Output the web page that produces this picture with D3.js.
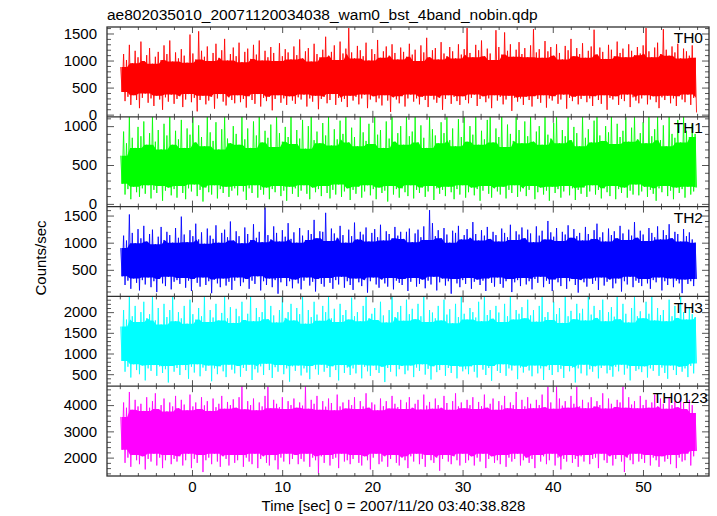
<!DOCTYPE html>
<html><head><meta charset="utf-8">
<script src="https://cdn.jsdelivr.net/npm/d3@7/dist/d3.min.js"></script>
<style>
html,body{margin:0;padding:0;background:#fff;}
svg text{font-family:"Liberation Sans",Arial,Helvetica,sans-serif;fill:#000;}
</style></head>
<body><svg id="chart" width="717" height="516"></svg>
<script>
// ---- data ----
const title = "ae802035010_20071120034038_wam0_bst_4band_nobin.qdp";
const xLabel = "Time [sec] 0 = 2007/11/20 03:40:38.828";
const yLabel = "Counts/sec";
const bands = ["TH0", "TH1", "TH2", "TH3", "TH0123"];
const colors = ["#ff0000", "#00ff00", "#0000ff", "#00ffff", "#ff00ff"];
const xTicksMajor = [0, 10, 20, 30, 40, 50];
const xDomain = [-9.42, 57.32];
const tStart = -7.9;      // first bin time [s]
const binWidth = 0.32;    // bin width [s]
const yDomains = [[-40, 1620], [-35, 1120], [10, 1665], [210, 2380], [1300, 4720]];
const yTickLabels = [[0, 500, 1000, 1500], [0, 500, 1000], [500, 1000, 1500], [500, 1000, 1500, 2000], [2000, 3000, 4000]];
const yMinorStep = [100, 100, 100, 100, 200];

// per-bin upper (hi) and lower (lo) excursions of each light curve
const hiTH0 = [880,1120,1010,1290,950,1180,1060,1350,990,1100,1230,940,1070,1160,1010,1280,1120,1370,980,1150,
1040,1210,1090,960,1480,1130,1020,1540,1180,1070,1260,990,1140,1310,1050,1190,1400,1000,1120,1240,
1080,1330,970,1160,1220,1030,1290,1110,1370,1000,1180,1060,1250,1140,990,1320,1080,1210,1150,1020,
1260,1100,1390,1040,1170,1230,980,1310,1120,1060,1200,1440,1090,1160,1280,1010,1350,1130,1220,1600,
1150,1040,1270,1190,1080,1330,1000,1210,1120,1380,1050,1170,1260,1090,1300,1140,1020,1240,1160,1070,
1310,1110,1200,990,1280,1150,1420,1060,1190,1230,1020,1340,1130,1080,1250,1170,1040,1300,1110,1210,
1600,1140,1060,1290,1190,1370,1080,1220,1130,1010,1560,1250,1110,1520,1180,1300,1070,1200,1340,1120,
1230,1060,1280,1580,1150,1210,1050,1360,1170,1250,1090,1300,1140,1020,1270,1190,1400,1080,1230,1120,
1320,1050,1180,1260,1570,1110,1240,1160,1030,1290,1200,1080,1350,1140,1220,1060,1300,1180,1100,1250,
1130,1280,1600,1170,1060,1240,1330,1120,1580,1200,1090,1260,1150,1310,1040,1220,1170,1090,1280,1050];
const loTH0 = [420,250,330,180,360,270,120,310,390,220,300,160,350,280,90,320,240,370,200,290,
340,140,280,380,230,310,60,270,350,190,260,330,110,300,380,240,170,320,270,210,
360,230,290,130,340,270,200,380,150,310,250,330,80,290,360,220,300,180,340,260,
200,320,280,370,150,300,240,350,100,290,330,210,270,380,180,310,240,290,140,350,
260,330,190,300,370,120,280,340,230,300,170,360,260,50,320,280,210,340,150,300,
370,240,300,190,330,270,140,350,280,220,310,90,290,360,200,330,250,180,340,270,
210,310,370,160,290,340,230,300,120,360,260,330,190,280,350,70,310,240,300,180,
330,270,150,340,290,220,360,130,300,260,340,200,280,370,110,310,250,330,190,290,
350,230,300,160,340,270,200,360,90,310,280,340,180,290,250,370,140,320,260,210,
300,360,190,280,340,230,120,320,270,350,210,300,160,340,280,230,370,180,310,40];
const hiTH1 = [620,930,780,1120,850,720,990,870,1060,760,910,1120,800,950,700,1030,880,1120,760,940,
830,1080,720,970,890,1120,790,1010,860,740,1120,920,810,1050,700,960,1120,840,780,1000,
900,760,1120,830,970,720,1060,880,1120,790,940,850,1020,730,1120,910,800,990,860,1120,
770,950,840,1080,710,1000,1120,820,930,780,1040,880,1120,750,960,830,1070,900,1120,790,
980,860,740,1120,920,810,1030,770,1120,890,950,720,1060,840,1120,800,910,1000,760,1120,
870,930,1120,790,1010,850,720,1120,960,880,780,1050,910,1120,820,970,740,1090,860,1120,
800,1000,890,1120,760,940,830,1080,1120,790,970,860,1120,730,1020,900,810,1120,950,780,
1060,870,1120,800,930,1000,760,1120,890,840,1040,1120,780,950,870,1120,820,990,910,740,
1120,850,960,790,1070,1120,880,810,1000,920,1120,770,1030,860,940,1120,800,980,1120,830,
910,1050,780,1120,870,960,1120,820,1010,740,1120,900,850,1080,790,1120,940,860,1020,900];
const loTH1 = [260,120,190,60,220,150,90,200,130,240,70,180,140,230,40,170,210,110,190,80,
230,140,60,200,160,250,100,180,30,210,150,120,240,70,190,140,220,90,170,200,
110,230,160,50,200,140,240,80,180,120,210,60,190,150,230,100,170,40,220,130,
200,90,170,240,130,60,210,150,190,100,230,140,70,180,120,250,90,160,200,50,
180,130,220,80,160,240,110,190,60,210,140,170,30,230,120,190,80,200,150,100,
240,70,180,140,210,90,160,230,50,200,130,180,100,220,150,60,190,120,240,80,
150,210,110,190,40,170,230,130,80,200,160,120,220,70,180,140,240,90,160,200,
100,180,230,60,150,210,120,170,40,220,140,190,80,160,230,110,200,50,180,130,
210,90,160,240,120,180,70,200,150,100,230,60,190,140,210,80,170,120,250,110,
160,220,90,180,130,40,200,150,230,100,170,60,210,140,190,80,220,120,160,210];
const hiTH2 = [900,1130,1040,1520,1180,990,1250,1080,1310,1020,1160,1240,970,1110,1290,1050,1200,1140,1000,1270,
1090,1480,1150,1010,1230,1120,1350,1060,1190,980,1260,1130,1070,1320,1000,1180,1240,1100,1390,1040,
1210,1120,990,1280,1160,1050,1340,1090,1200,1010,1650,1140,1060,1300,1180,1020,1230,1110,1360,1070,
1190,1000,1270,1130,1050,1230,1160,1420,1080,1210,1200,1550,1030,1260,1170,1090,1310,1140,1000,1240,
1120,1370,1060,1200,1150,1280,1020,1180,1250,1100,1330,1040,1210,1160,1080,1290,1130,1200,1070,1200,
1260,1010,1170,1240,1100,1300,1050,1600,1360,1120,1230,1080,1270,1150,1000,1220,1180,1310,1060,1140,
1250,1090,1380,1160,1040,1230,1130,1290,1070,1200,1140,1020,1260,1180,1100,1330,1050,1210,1150,1280,
1080,1240,1170,1010,1300,1130,1220,1060,1400,1190,1110,1270,1030,1200,1150,1320,1090,1250,1120,1180,
1040,1290,1160,1070,1230,1350,1100,1190,1020,1260,1140,1210,1080,1310,1170,1050,1240,1130,1380,1090,
1220,1150,1030,1270,1180,1100,1300,1060,1230,1140,1340,1080,1200,1160,1020,1250,1120,1190,1060,1000];
const loTH2 = [380,220,300,150,340,260,120,310,230,360,180,290,90,330,250,200,370,140,280,310,
240,350,170,300,110,330,260,190,360,220,290,70,320,250,180,340,210,280,130,300,
360,200,270,330,150,300,240,380,120,290,220,340,180,310,60,270,350,200,290,160,
320,250,140,300,360,210,280,100,330,240,190,350,260,150,310,230,370,170,290,220,
130,340,270,200,310,80,290,360,230,170,320,250,190,350,140,300,260,220,330,110,
280,350,190,240,320,160,300,230,370,120,270,340,210,290,60,330,250,180,310,240,
350,150,280,320,220,300,110,340,260,190,360,240,170,290,330,90,270,310,200,350,
230,290,140,330,260,370,180,300,240,110,320,270,200,350,150,290,330,220,80,310,
270,190,340,240,300,130,360,210,280,320,160,250,340,100,290,230,370,180,300,260,
200,330,250,150,310,270,360,120,290,220,340,180,300,250,70,320,240,290,200,330];
const hiTH3 = [1650,2050,1820,2380,1900,2150,1760,2000,2250,1850,1950,2380,1800,2100,1700,2200,1880,2050,2380,1780,
2000,1850,2150,1720,2300,1950,1820,2100,1900,2380,1760,2050,1870,2200,1800,1980,2380,1850,2120,1740,
2080,1900,2250,1810,1960,2380,1780,2100,1880,2000,2300,1830,2150,1920,1750,2050,2380,1860,2000,2200,
1800,2100,1950,2380,1720,2050,1880,2250,1940,1790,2150,2000,2380,1850,2080,1760,2200,1930,2050,1820,
2350,1900,2000,1780,2150,2380,1850,1960,2100,1810,2250,1920,1750,2050,2380,1880,2000,2150,1790,2300,
1950,2080,1830,2200,1900,2380,1760,2050,1990,1850,2150,1800,2300,1940,2070,1730,2200,1880,2380,1960,
1820,2100,2000,1870,2250,1780,2380,1930,2050,1840,2150,1990,1760,2200,1900,2380,1820,2050,1960,2120,
1850,2300,1920,2050,1770,2150,2380,1880,2000,1810,2250,1950,2100,1740,2380,1900,2030,1830,2200,1970,
2080,1800,2380,1940,2150,1860,2050,2300,1780,2000,2120,1890,2380,1830,2200,1960,1750,2100,2380,1900,
2020,1850,2250,1960,2380,1800,2100,1930,2050,1780,2300,1900,2150,1860,2380,2000,1820,2100,1950,1880];
const loTH3 = [820,560,680,420,740,600,500,710,350,640,580,720,460,690,530,620,300,700,560,650,
480,720,600,390,680,540,740,450,660,580,710,330,640,500,690,570,430,730,610,520,
700,440,650,580,730,360,620,540,690,480,750,600,410,670,560,720,500,640,320,690,
580,710,470,640,540,380,700,620,490,730,560,650,430,690,600,350,720,530,660,480,
640,520,730,400,680,570,460,710,600,530,680,310,650,560,720,450,620,700,500,590,
710,430,660,580,740,490,630,370,690,550,600,720,460,650,530,700,400,680,570,620,
500,690,560,420,720,610,480,650,340,700,580,530,740,460,640,590,710,380,660,540,
680,590,450,710,520,640,360,690,600,480,720,550,630,410,700,570,660,300,640,520,
730,470,620,560,690,400,650,710,520,600,440,680,570,730,490,640,350,700,580,620,
550,690,420,640,580,720,460,660,530,390,710,600,480,680,560,640,430,700,520,760];
const hiTH0123 = [3550,4100,3900,4500,3820,4200,3950,4050,3780,4300,3900,4150,4450,3850,4000,4250,3760,4100,3950,4350,
3880,4200,4020,3800,4400,3950,4100,3850,4300,3990,4150,3780,4250,3920,4050,4350,3860,4120,4000,4220,
3900,4300,4720,3840,4150,4000,4250,3800,4100,3950,4350,4700,3880,4200,4050,3920,4300,3850,4150,4000,
4250,3900,4100,3980,4700,3860,4200,4050,4350,3820,4150,3940,4250,4080,3800,4400,3950,4100,3870,4200,
4000,4300,3850,4150,3950,4450,3900,4100,4020,3800,4250,3960,4150,3870,4350,4050,3920,4200,3850,4100,
4300,3900,4050,4200,3830,4400,3980,4120,3860,4250,4000,3900,4350,4080,3820,4150,4450,3950,4100,3880,
4200,4000,4300,3850,4120,3960,4400,3900,4050,4250,3820,4150,3990,4350,3880,4100,4000,4500,3850,4200,
3950,4300,4050,3880,4200,4000,4400,3920,4700,4100,3860,4700,4250,3980,4150,3900,4350,4050,4700,3950,
4200,3880,4100,4300,3950,4150,4000,4450,3870,4250,4050,3930,4200,4100,4700,3900,4300,4020,4150,3880,
4350,4000,4200,3900,4100,4400,3950,4250,4050,3860,4300,4000,4150,3920,4250,4080,3850,4200,4000,3700];
const loTH0123 = [2300,1800,2000,1650,2100,1900,1750,2050,1550,1950,1850,2150,1700,2000,1600,1900,2100,1750,1950,1850,
2050,1700,1900,2150,1600,1950,1800,2100,1450,1900,2000,1750,2150,1850,1650,2050,1950,1700,2100,1800,
1900,2100,1650,2000,1850,1750,2150,1600,1950,2050,1800,1700,2100,1900,1550,2000,1850,2150,1750,1950,
2100,1750,1950,1850,2150,1650,2000,1900,1400,2050,1800,2100,1700,1950,2000,1600,2150,1850,1900,1750,
1950,2100,1800,1700,2050,1900,1550,2000,2150,1750,1850,2050,1650,1950,2100,1800,1700,2000,1900,1600,
2050,1850,2150,1750,1950,1650,2100,1900,1800,2000,1500,1950,2100,1850,1750,2050,1900,1700,2150,1800,
1900,2050,1700,2000,1850,2150,1600,1950,2050,1800,1900,1750,2100,1650,2000,1850,1950,2150,1700,1900,
2000,1800,1950,1600,2100,1850,2050,1750,1900,2150,1700,2000,1550,1950,1850,2100,1800,1950,1650,2050,
1850,2100,1750,1950,2000,1600,2150,1900,1800,2050,1700,1950,2100,1850,1450,2000,1900,1750,2150,1850,
1950,1800,2100,1700,2000,1900,1650,2050,1850,1950,1750,2100,1600,2000,1850,1900,2150,1700,2050,2250];

const hiSeries = [hiTH0, hiTH1, hiTH2, hiTH3, hiTH0123];
const loSeries = [loTH0, loTH1, loTH2, loTH3, loTH0123];

// ---- layout ----
const svg = d3.select("#chart");
const plotL = 107, plotR = 709, plotT = 27, plotB = 476;
const nP = bands.length;
const pH = (plotB - plotT) / nP;
const frameColor = "#303030", tickColor = "#555";

const x = d3.scaleLinear().domain(xDomain).range([plotL, plotR]);
const xMinor = d3.range(-8, 57, 2).filter(v => v % 10 !== 0);

svg.append("defs").selectAll("clipPath").data(bands).join("clipPath")
  .attr("id", (d, i) => "clip" + i)
  .append("rect")
  .attr("x", plotL).attr("width", plotR - plotL)
  .attr("y", (d, i) => plotT + i * pH).attr("height", pH);

bands.forEach((name, i) => {
  const top = plotT + i * pH, bot = top + pH;
  const y = d3.scaleLinear().domain(yDomains[i]).range([bot, top]);
  const g = svg.append("g");
  const hi = hiSeries[i], lo = loSeries[i];
  const pts = [];
  hi.forEach((v, k) => {
    const t = tStart + k * binWidth;
    pts.push([t, v]);
    pts.push([t + binWidth / 2, lo[k]]);
  });
  // dense overlap region of neighbouring excursions
  const core = hi.map((v, k) => {
    const a = Math.max(0, k - 2), b = Math.min(hi.length, k + 3);
    return [tStart + k * binWidth + binWidth / 4, d3.max(lo.slice(a, b)), d3.min(hi.slice(a, b))];
  });
  const dg = g.append("g").attr("clip-path", `url(#clip${i})`);
  dg.append("path")
    .datum(core)
    .attr("fill", colors[i])
    .attr("d", d3.area().x(d => x(d[0])).y0(d => y(d[1])).y1(d => y(d[2])));
  dg.append("path")
    .datum(pts)
    .attr("fill", "none")
    .attr("stroke", colors[i])
    .attr("stroke-width", 1)
    .attr("stroke-opacity", 0.85)
    .attr("stroke-linejoin", "bevel")
    .attr("d", d3.line().x(d => x(d[0])).y(d => y(d[1])));

  // y axes (ticks inward)
  const step = yMinorStep[i], bigStep = step * 5;
  const yMinorVals = d3.range(Math.ceil(yDomains[i][0] / step) * step, yDomains[i][1], step).filter(v => v % bigStep !== 0);
  const yMajorVals = d3.range(Math.ceil(yDomains[i][0] / bigStep) * bigStep, yDomains[i][1], bigStep);
  const axL = g.append("g").attr("transform", `translate(${plotL},0)`);
  axL.call(d3.axisLeft(y).tickValues(yMinorVals).tickSize(-4).tickFormat(""));
  axL.append("g").call(d3.axisLeft(y).tickValues(yMajorVals).tickSize(-7).tickFormat(""));
  const axR = g.append("g").attr("transform", `translate(${plotR},0)`);
  axR.call(d3.axisRight(y).tickValues(yMinorVals).tickSize(-4).tickFormat(""));
  axR.append("g").call(d3.axisRight(y).tickValues(yMajorVals).tickSize(-7).tickFormat(""));
  // labels
  const lab = g.append("g").attr("transform", `translate(${plotL},0)`)
    .call(d3.axisLeft(y).tickValues(yTickLabels[i]).tickSize(0).tickPadding(10).tickFormat(d3.format("d")));
  lab.selectAll("text").attr("font-size", 15).attr("fill", "#000").style("font-family", '"Liberation Sans",Arial,sans-serif');
  // x ticks top and bottom
  [top, bot].forEach((yy, j) => {
    const mk = () => (j === 0 ? d3.axisTop(x) : d3.axisBottom(x));
    const ga = g.append("g").attr("transform", `translate(0,${yy})`);
    ga.call(mk().tickValues(xMinor).tickSize(-3).tickFormat(""));
    ga.append("g").call(mk().tickValues(xTicksMajor).tickSize(-6).tickFormat(""));
  });
  g.selectAll(".domain").remove();
  g.selectAll(".tick line").attr("stroke", tickColor).attr("stroke-width", 1);
  // band label
  g.append("text")
    .attr("x", i === 4 ? 708 : 703).attr("y", top + 16.3)
    .attr("text-anchor", "end").attr("font-size", 15.5)
    .text(name);
});

// frame lines
svg.append("rect").attr("x", plotL).attr("y", plotT).attr("width", plotR - plotL).attr("height", plotB - plotT)
  .attr("fill", "none").attr("stroke", frameColor).attr("stroke-width", 1.3);
svg.append("g").selectAll("line").data(d3.range(1, nP)).join("line")
  .attr("x1", plotL).attr("x2", plotR)
  .attr("y1", d => plotT + d * pH).attr("y2", d => plotT + d * pH)
  .attr("stroke", frameColor).attr("stroke-width", 1.3);

// x tick labels
svg.append("g").attr("transform", `translate(0,${plotB})`)
  .call(d3.axisBottom(x).tickValues(xTicksMajor).tickSize(0).tickPadding(5).tickFormat(d3.format("d")))
  .call(g => g.select(".domain").remove())
  .selectAll("text").attr("font-size", 15).attr("fill", "#000").attr("dy", "0.71em")
  .style("font-family", '"Liberation Sans",Arial,sans-serif');

svg.append("text").attr("x", plotL).attr("y", 20).attr("font-size", 15.5).text(title);
svg.append("text").attr("x", 393.5).attr("y", 511).attr("text-anchor", "middle").attr("font-size", 15).text(xLabel);
svg.append("text").attr("transform", "translate(46,258) rotate(-90)").attr("text-anchor", "middle").attr("font-size", 15).text(yLabel);
</script></body></html>
